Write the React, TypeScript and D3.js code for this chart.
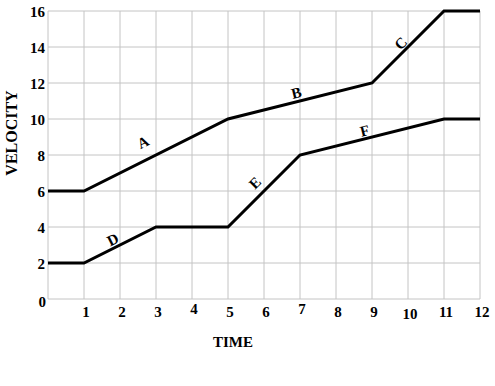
import React from "react";
import * as d3 from "d3";

const upperX = [0, 1, 5, 9, 11, 12];
const upperY = [6, 6, 10, 12, 16, 16];
const lowerX = [0, 1, 3, 5, 7, 11, 12];
const lowerY = [2, 2, 4, 4, 8, 10, 10];
const xTicks = [1, 2, 3, 4, 5, 6, 7, 8, 9, 10, 11, 12];
const yTicks = [0, 2, 4, 6, 8, 10, 12, 14, 16];
const segLabels = ["A", "B", "C", "D", "E", "F"];
const segStart = [[1, 6], [5, 10], [9, 12], [1, 2], [5, 4], [7, 8]];
const segEnd = [[5, 10], [9, 12], [11, 16], [3, 4], [7, 8], [11, 10]];
const segLabelAt = [[2.64, 8.7], [6.9, 11.45], [9.8, 14.2], [1.8, 3.3], [5.75, 6.45], [8.8, 9.35]];

const W = 495, H = 386;
const x = d3.scaleLinear().domain([0, 12]).range([48, 480]);
const y = d3.scaleLinear().domain([0, 16]).range([299, 11]);
const xJitter: Record<number, number> = { 4: -3, 7: -3, 10: 2 };

export default function App() {
  const line = d3.line<[number, number]>().x(d => x(d[0])).y(d => y(d[1]));
  const up = upperX.map((v, i) => [v, upperY[i]] as [number, number]);
  const lo = lowerX.map((v, i) => [v, lowerY[i]] as [number, number]);
  const font = "'Liberation Serif', 'Times New Roman', serif";
  return (
    <svg width={W} height={H} style={{ position: "absolute", left: 0, top: 0, background: "#fff" }}>
      <g stroke="#c4c4c4" strokeWidth={1}>
        {d3.range(0, 13).map(t => (
          <line key={"vx" + t} x1={x(t)} x2={x(t)} y1={y(0)} y2={y(16)} />
        ))}
        {d3.range(0, 17, 2).map(t => (
          <line key={"hy" + t} x1={x(0)} x2={x(12)} y1={y(t)} y2={y(t)} />
        ))}
      </g>
      <path d={line(up) || ""} fill="none" stroke="#000" strokeWidth={3} strokeLinejoin="miter" />
      <path d={line(lo) || ""} fill="none" stroke="#000" strokeWidth={3} strokeLinejoin="miter" />
      <g fontFamily={font} fontWeight="bold" fontSize={15} fill="#000">
        {yTicks.map(t => (
          <text key={"yt" + t} x={t === 0 ? 46 : 45} y={y(t) + (t === 0 ? 8 : 6)} textAnchor="end">{t}</text>
        ))}
        {xTicks.map(t => (
          <text key={"xt" + t} x={x(t) + 2} y={317 + (xJitter[t] || 0)} textAnchor="middle">{t}</text>
        ))}
        <text x={233} y={347} textAnchor="middle">TIME</text>
        <text transform={`translate(17,133) rotate(-90)`} textAnchor="middle" fontSize={16}>VELOCITY</text>
        {segLabels.map((s, i) => {
          const a = segStart[i], b = segEnd[i];
          const ang = (Math.atan2(y(b[1]) - y(a[1]), x(b[0]) - x(a[0])) * 180) / Math.PI;
          const px = x(segLabelAt[i][0]), py = y(segLabelAt[i][1]);
          return (
            <text key={s} transform={`translate(${px},${py}) rotate(${ang})`} textAnchor="middle" dominantBaseline="central" fontSize={15}>{s}</text>
          );
        })}
      </g>
    </svg>
  );
}
